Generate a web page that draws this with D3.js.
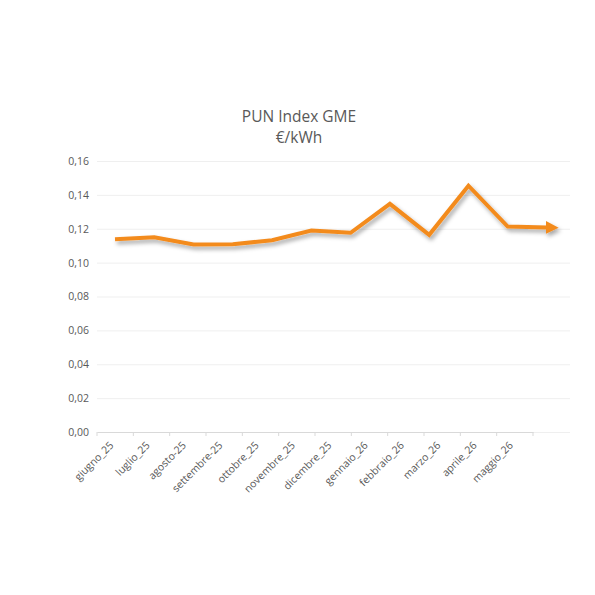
<!DOCTYPE html>
<html>
<head>
<meta charset="utf-8">
<script src="https://cdn.jsdelivr.net/npm/d3@7"></script>
<style>
  body { margin: 0; background: #fff; }
  text { font-family: "Open Sans", sans-serif; fill: #595959; }
</style>
</head>
<body>
<svg id="chart"></svg>
<script>
// months on the category axis
var months = ['giugno_25', 'luglio_25', 'agosto-25', 'settembre-25', 'ottobre_25', 'novembre_25',
              'dicembre_25', 'gennaio_26', 'febbraio_26', 'marzo_26', 'aprile_26', 'maggio_26'];
// PUN index, €/kWh
var pun = [0.1138, 0.1150, 0.1107, 0.1109, 0.1132, 0.1189,
           0.1176, 0.1347, 0.1164, 0.1454, 0.1213, 0.1207];
var yTicks = [0, 0.02, 0.04, 0.06, 0.08, 0.10, 0.12, 0.14, 0.16];
var titleLines = ['PUN Index GME', '€/kWh'];

var width = 595, height = 595,
    plotLeft = 97, plotRight = 570, axisRight = 533,
    plotTop = 161, plotBottom = 432;

var svg = d3.select('#chart')
    .attr('width', width)
    .attr('height', height);

//----------shadow for the line----------
var defs = svg.append('defs');
defs.append('filter')
    .attr('id', 'shadow')
    .attr('x', '-10%').attr('y', '-30%')
    .attr('width', '120%').attr('height', '160%')
  .append('feDropShadow')
    .attr('dx', 2).attr('dy', 3)
    .attr('stdDeviation', 2)
    .attr('flood-color', '#000')
    .attr('flood-opacity', 0.35);

defs.append('marker')
    .attr('id', 'arrow')
    .attr('viewBox', '0 0 10 10')
    .attr('refX', 1).attr('refY', 5)
    .attr('markerUnits', 'userSpaceOnUse')
    .attr('markerWidth', 13).attr('markerHeight', 13)
    .attr('orient', 'auto')
  .append('path')
    .attr('d', 'M0,0 L10,5 L0,10 Z')
    .attr('fill', '#F38B1F');

//----------scales----------
var x = d3.scaleBand().domain(months).range([plotLeft, axisRight]);
var xLine = d3.scalePoint().domain(months).range([115, 547]);
var y = d3.scaleLinear().domain([0, 0.16]).range([plotBottom, plotTop]);

//----------grid + y labels----------
var yAxis = d3.axisLeft(y)
    .tickValues(yTicks)
    .tickSize(-(plotRight - plotLeft))
    .tickFormat(d => d3.format('.2f')(d).replace('.', ','));

svg.append('g')
    .attr('class', 'y-axis')
    .attr('transform', 'translate(' + plotLeft + ',0)')
    .call(yAxis)
    .call(g => g.select('.domain').remove())
    .call(g => g.selectAll('.tick line').attr('stroke', '#efefef'))
    .call(g => g.selectAll('.tick text')
        .attr('x', -8)
        .attr('font-size', '10.5px')
        .attr('font-family', '"Open Sans", sans-serif')
        .attr('fill', '#595959'));

//----------x axis----------
var xAxis = d3.axisBottom(x)
    .tickSize(0)
    .tickSizeOuter(0);

var gx = svg.append('g')
    .attr('class', 'x-axis')
    .attr('transform', 'translate(0,' + plotBottom + ')')
    .call(xAxis);

gx.select('.domain').attr('stroke', '#d9d9d9').attr('stroke-width', 1.2);
gx.selectAll('.tick line').remove();

// tick marks at band boundaries
var bounds = months.map(d => x(d)).concat([axisRight]);
gx.selectAll('line.bound')
  .data(bounds)
  .enter()
  .append('line')
    .attr('class', 'bound')
    .attr('x1', d => d).attr('x2', d => d)
    .attr('y1', 0).attr('y2', 4)
    .attr('stroke', '#d9d9d9');

gx.selectAll('.tick text')
    .attr('font-size', '10.5px')
    .attr('font-family', '"Open Sans", sans-serif')
    .attr('fill', '#595959')
    .attr('text-anchor', 'end')
    .attr('y', 0)
    .attr('dy', 0)
    .attr('transform', 'translate(-1,14) rotate(-45)');

//----------line----------
var line = d3.line()
    .x((d, i) => xLine(months[i]))
    .y(d => y(d));

svg.append('path')
    .datum(pun)
    .attr('d', line)
    .attr('fill', 'none')
    .attr('stroke', '#F38B1F')
    .attr('stroke-width', 4)
    .attr('stroke-linejoin', 'miter')
    .attr('marker-end', 'url(#arrow)')
    .attr('filter', 'url(#shadow)');

//----------title----------
svg.append('text')
    .attr('x', 299)
    .attr('y', 122)
    .attr('text-anchor', 'middle')
    .attr('font-size', '15.5px')
  .selectAll('tspan')
  .data(titleLines)
  .enter()
  .append('tspan')
    .attr('x', 299)
    .attr('dy', (d, i) => i ? 21 : 0)
    .text(d => d);
</script>
</body>
</html>
